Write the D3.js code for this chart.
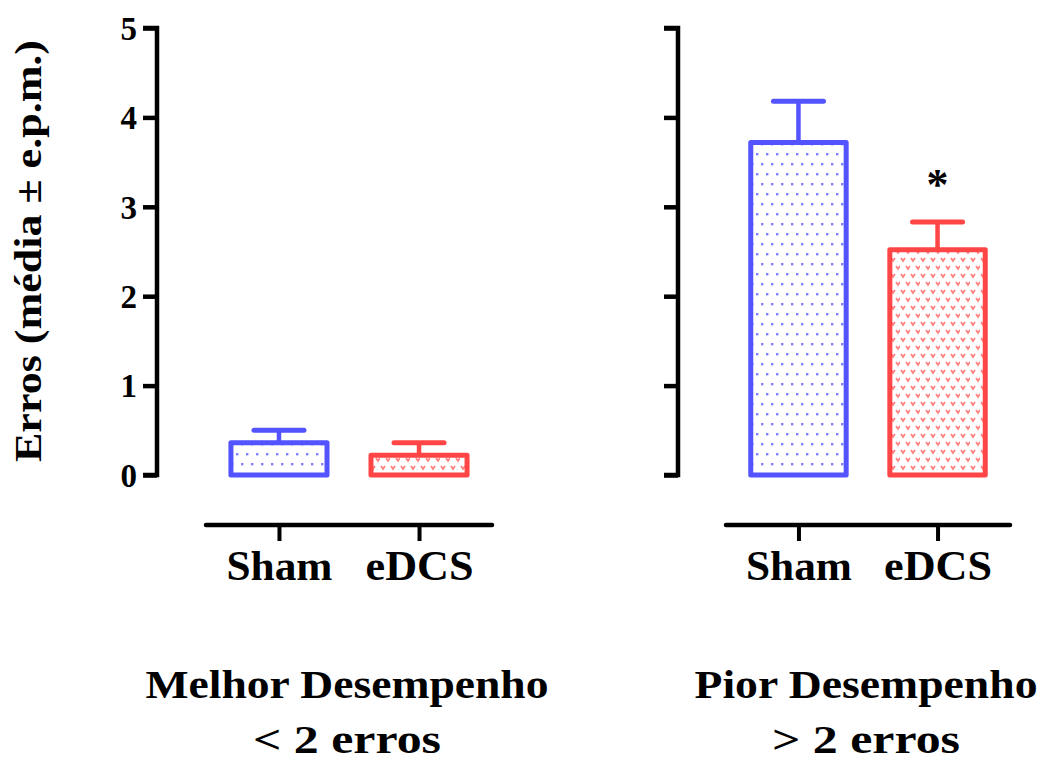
<!DOCTYPE html>
<html>
<head>
<meta charset="utf-8">
<script src="https://cdn.jsdelivr.net/npm/d3@7"></script>
<style>
  html, body { margin: 0; padding: 0; background: #fff; }
  svg { display: block; }
</style>
</head>
<body>
<svg id="chart" width="1049" height="762"></svg>
<script>
// ---------- data ----------
const groups = ["Sham", "eDCS"];
const panels = ["Melhor Desempenho", "Pior Desempenho"];
const panelSub = ["< 2 erros", "> 2 erros"];
const means = [[0.36, 0.22], [3.72, 2.52]];
const sems = [[0.14, 0.14], [0.46, 0.31]];
const signif = [["", ""], ["", "*"]];
const yTicks = [0, 1, 2, 3, 4, 5];
const yLabel = "Erros (média ± e.p.m.)";

// ---------- style ----------
const colors = { Sham: "#5353ff", eDCS: "#ff4545" };
const dotColors = { Sham: "#7f7fff", eDCS: "#ff7f7f" };
const font = "'Liberation Serif', 'Times New Roman', serif";

const svg = d3.select("#chart");

// ---------- patterns ----------
const defs = svg.append("defs");
const pDots = defs.append("pattern")
  .attr("id", "pat-Sham")
  .attr("patternUnits", "userSpaceOnUse")
  .attr("width", 10).attr("height", 20);
pDots.append("rect").attr("x", 1).attr("y", 3).attr("width", 2.4).attr("height", 2.4).attr("fill", dotColors.Sham);
pDots.append("rect").attr("x", 6).attr("y", 13).attr("width", 2.4).attr("height", 2.4).attr("fill", dotColors.Sham);

const pVee = defs.append("pattern")
  .attr("id", "pat-eDCS")
  .attr("patternUnits", "userSpaceOnUse")
  .attr("width", 10).attr("height", 16);
[[1, 2], [6, 10]].forEach(([x, y]) => {
  pVee.append("path")
    .attr("d", `M${x},${y} L${x + 2},${y + 3} L${x + 4},${y}`)
    .attr("fill", "none")
    .attr("stroke", dotColors.eDCS)
    .attr("stroke-width", 1.8);
});

// ---------- scales ----------
const y = d3.scaleLinear().domain([0, 5]).range([475, 28]);
const axisX = [157, 678];            // y-axis line positions per panel
const panelRange = [[206, 492], [726, 1010]];
const xAxisY = 525;

panels.forEach((pname, pi) => {
  const g = svg.append("g");
  const x = d3.scalePoint().domain(groups).range(panelRange[pi]).padding(0.521);
  const bw = x.step() * 0.686;
  const capW = 50;

  // y axis
  const ax = g.append("g").attr("transform", `translate(${axisX[pi]},0)`)
    .call(d3.axisLeft(y).tickValues(yTicks).tickSize(14).tickSizeOuter(0)
      .tickFormat(pi === 0 ? d3.format("d") : () => ""));
  ax.select(".domain").attr("stroke", "#000").attr("stroke-width", 4.5)
    .attr("d", `M-14,${y(5)}H0V${y(0)}H-14`).attr("stroke-linejoin", "miter");
  ax.selectAll(".tick line").attr("stroke", "#000").attr("stroke-width", 4.5);
  ax.selectAll(".tick text")
    .attr("x", -20).attr("dy", "0.34em")
    .attr("font-family", font).attr("font-weight", "bold")
    .attr("font-size", 33).attr("fill", "#000");

  // x axis
  const xa = g.append("g").attr("transform", `translate(0,${xAxisY})`)
    .call(d3.axisBottom(x).tickSize(16).tickSizeOuter(0));
  xa.select(".domain").attr("stroke", "#000").attr("stroke-width", 4.5)
    .attr("stroke-linecap", "round")
    .attr("d", `M${panelRange[pi][0]},0H${panelRange[pi][1]}`);
  xa.selectAll(".tick line").attr("stroke", "#000").attr("stroke-width", 4);
  xa.selectAll(".tick text")
    .attr("y", 55).attr("dy", 0)
    .attr("font-family", font).attr("font-weight", "bold")
    .attr("font-size", 42).attr("fill", "#000")
    .attr("textLength", d => d === "Sham" ? 106 : 108)
    .attr("lengthAdjust", "spacingAndGlyphs");

  // bars
  const rows = groups.map((grp, i) => ({ grp, m: means[pi][i], s: sems[pi][i], sig: signif[pi][i] }));
  const bars = g.selectAll("g.bar").data(rows).enter().append("g").attr("class", "bar");

  bars.append("line")
    .attr("x1", d => x(d.grp)).attr("x2", d => x(d.grp))
    .attr("y1", d => y(d.m)).attr("y2", d => y(d.m + d.s))
    .attr("stroke", d => colors[d.grp]).attr("stroke-width", 4.5);
  bars.append("line")
    .attr("x1", d => x(d.grp) - capW / 2).attr("x2", d => x(d.grp) + capW / 2)
    .attr("y1", d => y(d.m + d.s)).attr("y2", d => y(d.m + d.s))
    .attr("stroke", d => colors[d.grp]).attr("stroke-width", 5)
    .attr("stroke-linecap", "round");
  bars.append("rect")
    .attr("x", d => x(d.grp) - bw / 2).attr("width", bw)
    .attr("y", d => y(d.m)).attr("height", d => y(0) - y(d.m))
    .attr("fill", d => `url(#pat-${d.grp})`)
    .attr("stroke", d => colors[d.grp]).attr("stroke-width", 5)
    .attr("stroke-linejoin", "round");
  bars.filter(d => d.sig).append("text")
    .attr("x", d => x(d.grp)).attr("y", d => y(d.m + d.s) - 23)
    .attr("text-anchor", "middle")
    .attr("font-family", font).attr("font-weight", "bold").attr("font-size", 44)
    .text(d => d.sig);

  // panel label
  const cx = (panelRange[pi][0] + panelRange[pi][1]) / 2;
  g.append("text").attr("x", cx - 2).attr("y", 698)
    .attr("text-anchor", "middle")
    .attr("font-family", font).attr("font-weight", "bold").attr("font-size", 40)
    .attr("textLength", pi === 0 ? 403 : 343).attr("lengthAdjust", "spacingAndGlyphs")
    .text(pname);
  g.append("text").attr("x", cx - 2).attr("y", 753)
    .attr("text-anchor", "middle")
    .attr("font-family", font).attr("font-weight", "bold").attr("font-size", 40)
    .attr("textLength", 188).attr("lengthAdjust", "spacingAndGlyphs")
    .text(panelSub[pi]);
});

// y label
svg.append("text")
  .attr("transform", `translate(41,251) rotate(-90)`)
  .attr("text-anchor", "middle")
  .attr("font-family", font).attr("font-weight", "bold").attr("font-size", 37)
  .attr("textLength", 422).attr("lengthAdjust", "spacingAndGlyphs")
  .text(yLabel);
</script>
</body>
</html>
